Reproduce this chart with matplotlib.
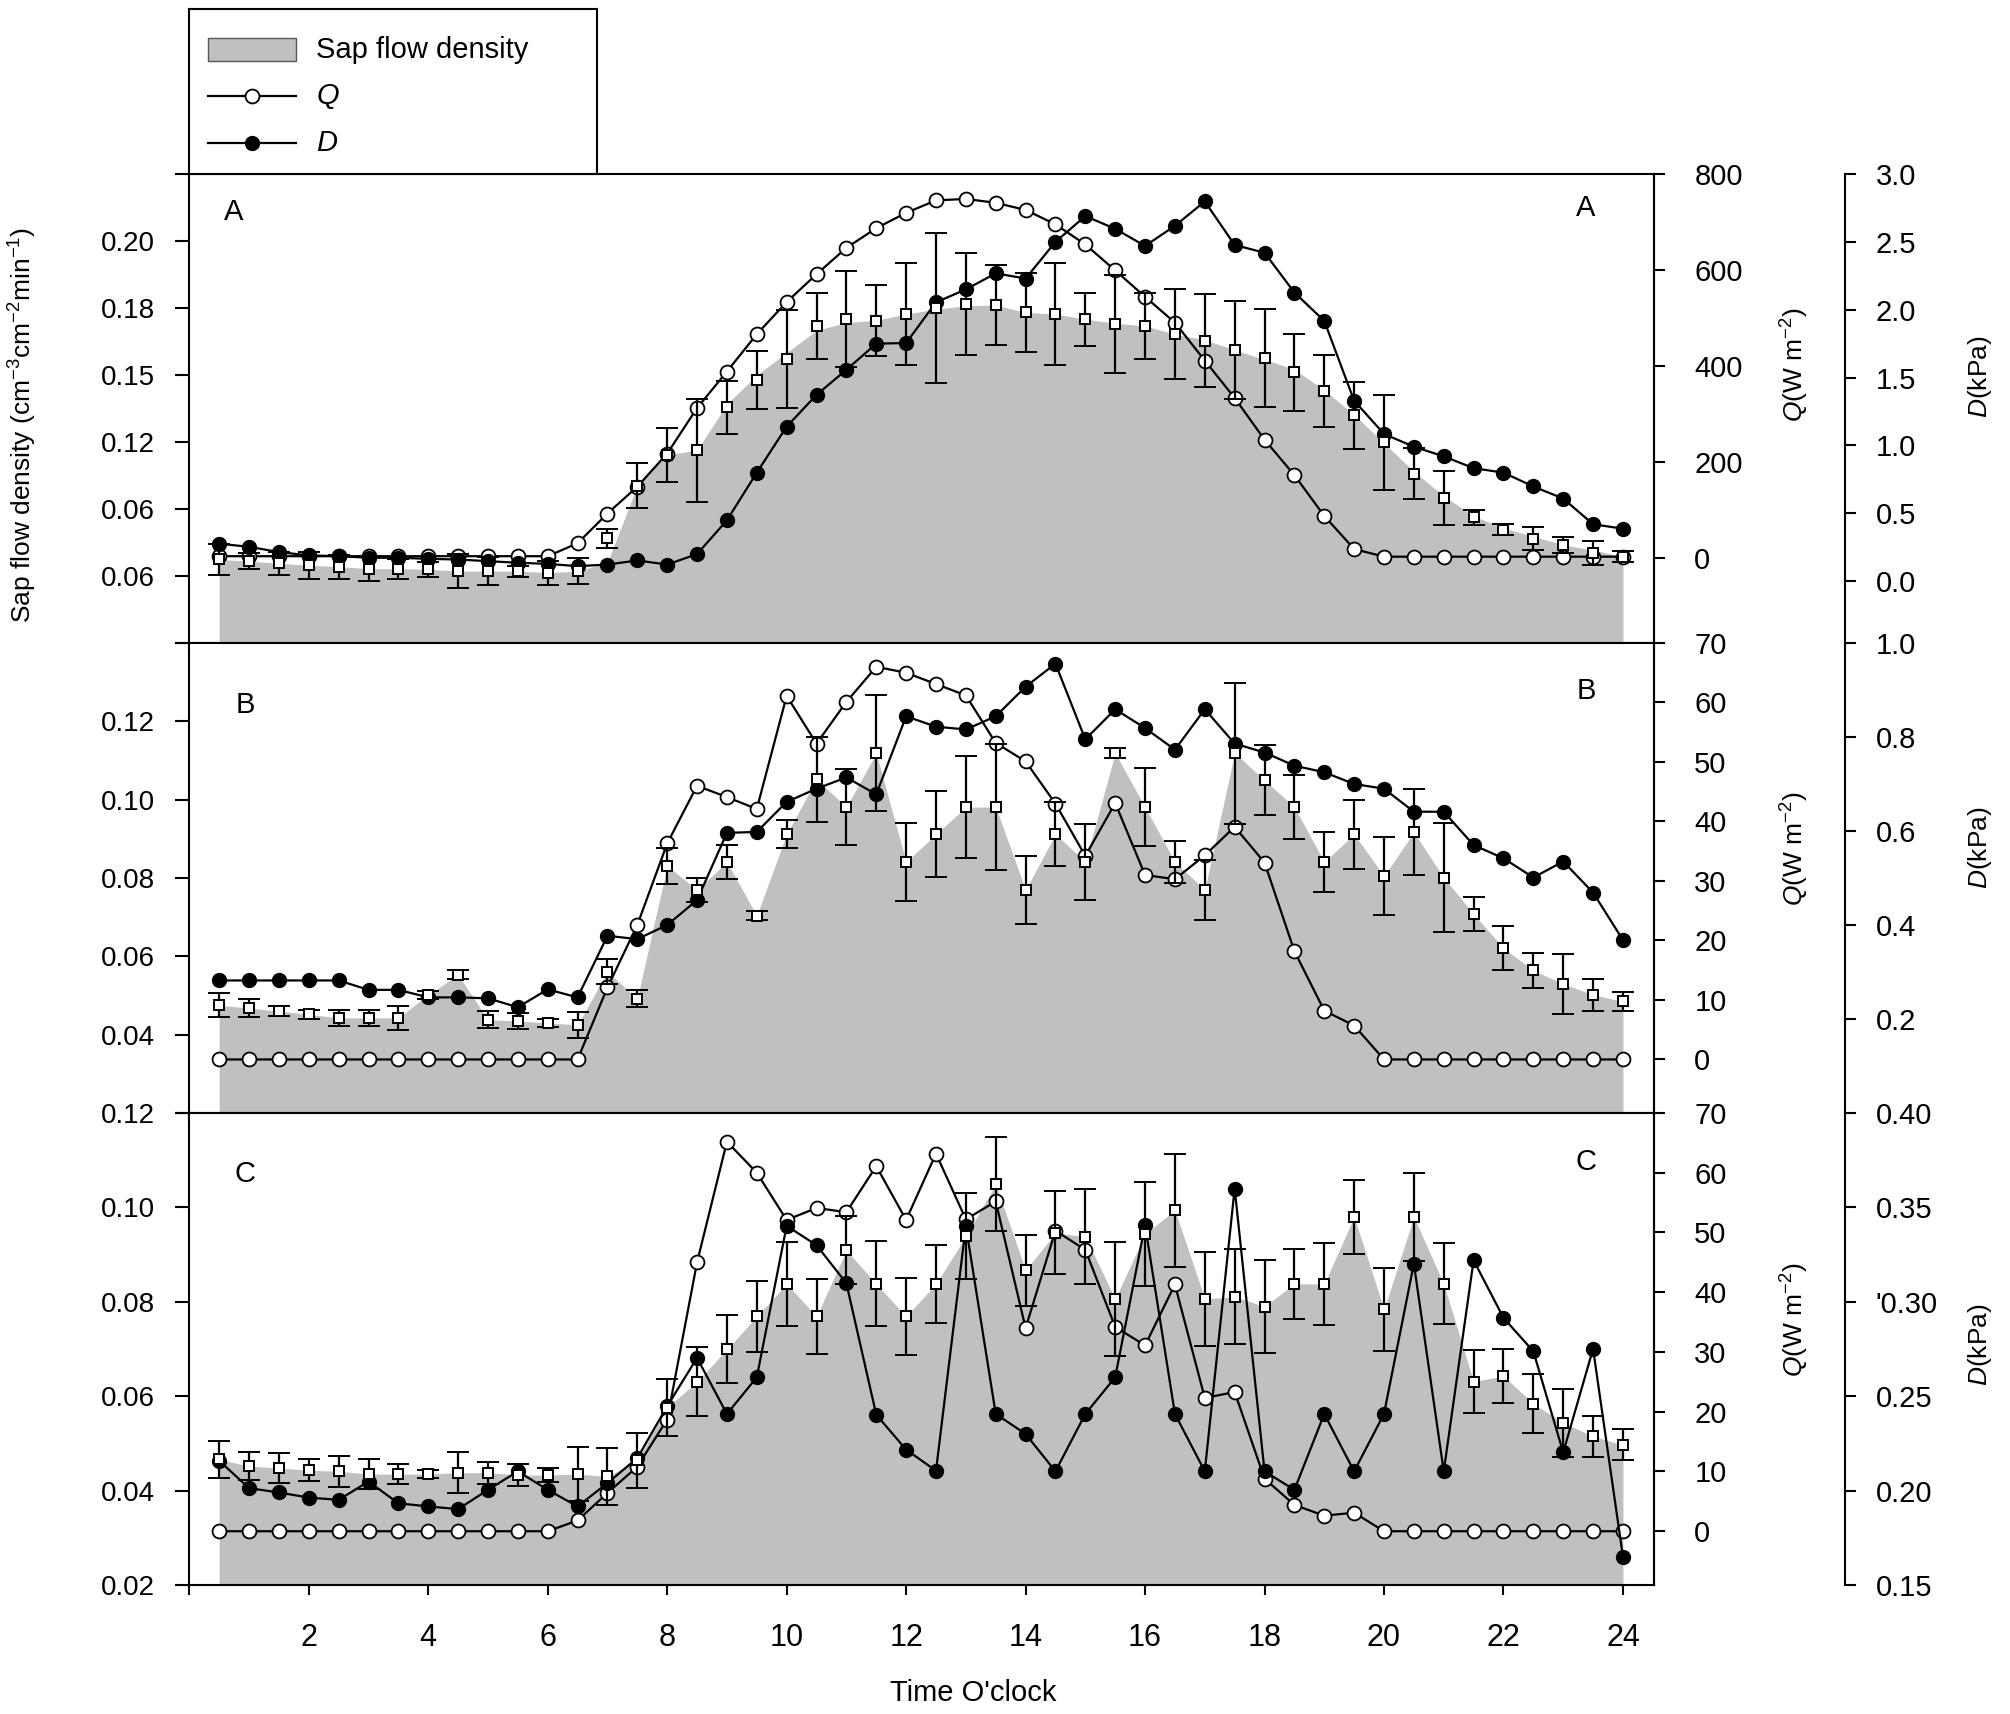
import numpy as np
import matplotlib
matplotlib.use('Agg')
import matplotlib.pyplot as plt
from matplotlib import font_manager as fm
from matplotlib.patches import Rectangle

_names = {f.name for f in fm.fontManager.ttflist}
MAIN = 'Liberation Sans' if 'Liberation Sans' in _names else 'DejaVu Sans'
plt.rcParams['font.family'] = [MAIN, 'DejaVu Sans']
plt.rcParams['mathtext.fontset'] = 'custom'
plt.rcParams['mathtext.rm'] = MAIN
plt.rcParams['mathtext.it'] = MAIN + ':italic'
plt.rcParams['mathtext.default'] = 'regular'

# ---------------- data ----------------
hours = np.arange(0.5, 24.01, 0.5)
xticks = list(range(0, 25, 2))
xticklabels = [''] + [str(h) for h in range(2, 25, 2)]

# Panel A
sap_A = [0.0674, 0.0667, 0.0657, 0.0648, 0.0642, 0.0633, 0.0633, 0.0630, 0.0622, 0.0622, 0.0622, 0.0615, 0.0622,
         0.0768, 0.1005, 0.1143, 0.1163, 0.1355, 0.1478, 0.1572, 0.1720, 0.1750, 0.1743, 0.1773, 0.1800,
         0.1817, 0.1813, 0.1780, 0.1773, 0.1750, 0.1728, 0.1720, 0.1683, 0.1654, 0.1612, 0.1575, 0.1512,
         0.1429, 0.1319, 0.1198, 0.1058, 0.0950, 0.0863, 0.0808, 0.0767, 0.0737, 0.0704, 0.0687]
area_A = [0.0674, 0.0667, 0.0657, 0.0648, 0.0642, 0.0633, 0.0633, 0.0630, 0.0622, 0.0622, 0.0622, 0.0615, 0.0622,
          0.0660, 0.1005, 0.1143, 0.1163, 0.1370, 0.1500, 0.1600, 0.1700, 0.1735, 0.1745, 0.1773, 0.1795,
          0.1810, 0.1813, 0.1780, 0.1773, 0.1750, 0.1732, 0.1720, 0.1683, 0.1657, 0.1612, 0.1570, 0.1525,
          0.1432, 0.1322, 0.1195, 0.1068, 0.0958, 0.0868, 0.0815, 0.0777, 0.0740, 0.0716, 0.0687]
err_A = [0.0070, 0.0034, 0.0052, 0.0060, 0.0054, 0.0055, 0.0045, 0.0033, 0.0076, 0.0061, 0.0025, 0.0054, 0.0057,
         0.0043, 0.0100, 0.0120, 0.0230, 0.0120, 0.0130, 0.0220, 0.0149, 0.0215, 0.0159, 0.0229, 0.0338,
         0.0229, 0.0178, 0.0176, 0.0228, 0.0119, 0.0218, 0.0149, 0.0200, 0.0209, 0.0220, 0.0220, 0.0171,
         0.0161, 0.0149, 0.0211, 0.0115, 0.0120, 0.0033, 0.0024, 0.0052, 0.0036, 0.0054, 0.0025]
Q_A = [3, 3, 3, 3, 3, 3, 3, 3, 3, 3, 3, 3,
       30, 92, 148, 217, 312, 388, 466, 533, 591, 646, 687, 719, 745, 748, 740, 725, 695, 653,
       599, 544, 490, 411, 333, 246, 172, 87, 18,
       2, 2, 2, 2, 2, 2, 2, 2, 2]
D_A = [0.276, 0.254, 0.215, 0.190, 0.185, 0.173, 0.173, 0.165, 0.160, 0.148, 0.136, 0.128, 0.111,
       0.123, 0.153, 0.123, 0.200, 0.449, 0.800, 1.139, 1.373, 1.558, 1.750, 1.755, 2.055,
       2.150, 2.268, 2.230, 2.500, 2.690, 2.596, 2.470, 2.618, 2.798, 2.477, 2.420, 2.127,
       1.918, 1.330, 1.085, 0.991, 0.920, 0.833, 0.800, 0.698, 0.609, 0.420, 0.387]

# Panel B
sap_B = [0.0475, 0.0468, 0.0460, 0.0452, 0.0443, 0.0443, 0.0443, 0.0502, 0.0553, 0.0438, 0.0435, 0.0430, 0.0425,
         0.0561, 0.0492, 0.0831, 0.0770, 0.0841, 0.0704, 0.0912, 0.1052, 0.0981, 0.1119, 0.0841, 0.0912,
         0.0981, 0.0981, 0.0770, 0.0912, 0.0841, 0.1119, 0.0981, 0.0841, 0.0770, 0.1119, 0.1050, 0.0981,
         0.0841, 0.0912, 0.0805, 0.0917, 0.0801, 0.0708, 0.0621, 0.0564, 0.0530, 0.0502, 0.0485]
err_B = [0.0031, 0.0023, 0.0013, 0.0011, 0.0020, 0.0020, 0.0031, 0.0010, 0.0011, 0.0022, 0.0021, 0.0010, 0.0034,
         0.0032, 0.0022, 0.0046, 0.0031, 0.0043, 0.0011, 0.0035, 0.0109, 0.0098, 0.0148, 0.0100, 0.0110,
         0.0130, 0.0160, 0.0087, 0.0082, 0.0098, 0.0012, 0.0100, 0.0054, 0.0076, 0.0180, 0.0090, 0.0082,
         0.0076, 0.0088, 0.0100, 0.0110, 0.0140, 0.0044, 0.0057, 0.0045, 0.0076, 0.0041, 0.0024]
Q_B = [0, 0, 0, 0, 0, 0, 0, 0, 0, 0, 0, 0, 0,
       12.1, 22.6, 36.3, 46.0, 44.1, 42.1, 61.1, 53.1, 60.1, 66.0, 65.0, 63.1, 61.2, 53.2,
       50.1, 43.0, 34.2, 43.1, 31.0, 30.3, 34.3, 39.1, 33.1, 18.2, 8.2, 5.7,
       0, 0, 0, 0, 0, 0, 0, 0, 0]
D_B = [0.282, 0.282, 0.282, 0.282, 0.282, 0.262, 0.262, 0.246, 0.246, 0.244, 0.225, 0.263, 0.246,
       0.377, 0.370, 0.400, 0.453, 0.596, 0.598, 0.662, 0.690, 0.714, 0.678, 0.844, 0.822,
       0.816, 0.844, 0.907, 0.956, 0.795, 0.859, 0.819, 0.773, 0.859, 0.786, 0.767, 0.739,
       0.725, 0.700, 0.690, 0.641, 0.641, 0.570, 0.542, 0.501, 0.535, 0.469, 0.368]

# Panel C
sap_C = [0.0466, 0.0452, 0.0448, 0.0443, 0.0441, 0.0435, 0.0435, 0.0435, 0.0438, 0.0438, 0.0433, 0.0433, 0.0435,
         0.0430, 0.0464, 0.0576, 0.0631, 0.0699, 0.0769, 0.0838, 0.0769, 0.0909, 0.0838, 0.0769, 0.0838,
         0.0939, 0.1049, 0.0867, 0.0946, 0.0938, 0.0806, 0.0944, 0.0994, 0.0806, 0.0811, 0.0790, 0.0838,
         0.0838, 0.0980, 0.0784, 0.0980, 0.0838, 0.0631, 0.0643, 0.0584, 0.0544, 0.0515, 0.0497]
err_C = [0.0040, 0.0029, 0.0032, 0.0023, 0.0033, 0.0032, 0.0022, 0.0009, 0.0043, 0.0023, 0.0023, 0.0015, 0.0058,
         0.0060, 0.0059, 0.0060, 0.0073, 0.0072, 0.0076, 0.0089, 0.0080, 0.0072, 0.0090, 0.0082, 0.0082,
         0.0091, 0.0100, 0.0075, 0.0088, 0.0100, 0.0120, 0.0110, 0.0120, 0.0100, 0.0100, 0.0098, 0.0074,
         0.0087, 0.0079, 0.0088, 0.0093, 0.0086, 0.0066, 0.0057, 0.0062, 0.0072, 0.0044, 0.0033]
Q_C = [0, 0, 0, 0, 0, 0, 0, 0, 0, 0, 0, 0,
       1.8, 6.4, 10.8, 18.7, 45.0, 65.2, 60.0, 52.1, 54.1, 53.4, 61.1, 52.1, 63.2, 52.2, 55.2,
       34.0, 50.3, 47.1, 34.2, 31.1, 41.3, 22.3, 23.3, 8.8, 4.4, 2.6, 3.1,
       0, 0, 0, 0, 0, 0, 0, 0, 0]
D_C = [0.2158, 0.2013, 0.1990, 0.1963, 0.1951, 0.2048, 0.1933, 0.1916, 0.1902, 0.2004, 0.2102, 0.2004, 0.1916,
       0.2040, 0.2172, 0.2447, 0.2703, 0.2406, 0.2600, 0.3402, 0.3300, 0.3098, 0.2402, 0.2217, 0.2105,
       0.3402, 0.2406, 0.2300, 0.2102, 0.2406, 0.2600, 0.3407, 0.2406, 0.2102, 0.3600, 0.2102, 0.2004,
       0.2406, 0.2102, 0.2406, 0.3202, 0.2102, 0.3220, 0.2915, 0.2738, 0.2202, 0.2751, 0.1650]

# axis ticks / labels
sap_ticks_A = [0.21, 0.18, 0.15, 0.12, 0.09, 0.06]
sap_labels_A = ['0.20', '0.18', '0.15', '0.12', '0.06', '0.06']
sap_ticks_B = [0.04, 0.06, 0.08, 0.10, 0.12]
sap_labels_B = ['0.04', '0.06', '0.08', '0.10', '0.12']
sap_ticks_C = [0.02, 0.04, 0.06, 0.08, 0.10, 0.12]
sap_labels_C = ['0.02', '0.04', '0.06', '0.08', '0.10', '0.12']
q_ticks_A = [0, 200, 400, 600, 800]
q_ticks_BC = [0, 10, 20, 30, 40, 50, 60, 70]
d_ticks_A = [0.0, 0.5, 1.0, 1.5, 2.0, 2.5, 3.0]
d_labels_A = ['0.0', '0.5', '1.0', '1.5', '2.0', '2.5', '3.0']
d_ticks_B = [0.2, 0.4, 0.6, 0.8, 1.0]
d_labels_B = ['0.2', '0.4', '0.6', '0.8', '1.0']
d_ticks_C = [0.15, 0.20, 0.25, 0.30, 0.35, 0.40]
d_labels_C = ['0.15', '0.20', '0.25', "'0.30", '0.35', '0.40']

# ---------------- layout ----------------
FW, FH = 2010, 1714
fig = plt.figure(figsize=(FW / 100, FH / 100), dpi=100)
L = 189.3 / FW
R = 1654 / FW
XMAX = 24.52
GREY = '#c0c0c0'

panels = [
    dict(top=174, bot=643, sap=sap_A, area=area_A, err=err_A, Q=Q_A, D=D_A,
         sylim=(0.03, 0.24), sticks=sap_ticks_A, slabels=sap_labels_A, edge=True,
         qylim=(-178, 800), qticks=q_ticks_A,
         dylim=(-0.455, 3.0), dticks=d_ticks_A, dlabels=d_labels_A,
         letter='A', lpos=((0.74, 0.918), (23.38, 0.928)), qy=365, dy=377),
    dict(top=643, bot=1113, sap=sap_B, area=sap_B, err=err_B, Q=Q_B, D=D_B,
         sylim=(0.02, 0.14), sticks=sap_ticks_B, slabels=sap_labels_B, edge=True,
         qylim=(-9, 70), qticks=q_ticks_BC,
         dylim=(0.0, 1.0), dticks=d_ticks_B, dlabels=d_labels_B,
         letter='B', lpos=((0.93, 0.868), (23.39, 0.898)), qy=849, dy=848),
    dict(top=1113, bot=1585, sap=sap_C, area=sap_C, err=err_C, Q=Q_C, D=D_C,
         sylim=(0.02, 0.12), sticks=sap_ticks_C, slabels=sap_labels_C, edge=False,
         qylim=(-9, 70), qticks=q_ticks_BC,
         dylim=(0.15, 0.40), dticks=d_ticks_C, dlabels=d_labels_C,
         letter='C', lpos=((0.94, 0.87), (23.38, 0.896)), qy=1320, dy=1345),
]

LW = 1.5
for i, p in enumerate(panels):
    ax = fig.add_axes([L, 1 - p['bot'] / FH, R - L, (p['bot'] - p['top']) / FH])
    ax.fill_between(hours, p['area'], p['sylim'][0], color=GREY, lw=0, zorder=1)
    ax.set_xlim(0, XMAX)
    ax.set_ylim(*p['sylim'])
    ax.set_yticks(p['sticks'])
    ax.set_yticklabels(p['slabels'])
    if p['edge']:
        ax.set_yticks(list(p['sylim']), minor=True)
    ax.set_xticks(xticks)
    if i == 2:
        ax.set_xticklabels(xticklabels)
    else:
        ax.set_xticklabels([])
    ax.tick_params(axis='y', which='both', direction='out', length=10, width=LW,
                   labelsize=20, pad=15)
    ax.tick_params(axis='x', direction='out', length=7, width=LW, labelsize=22, pad=20)
    for s in ax.spines.values():
        s.set_linewidth(LW)

    # Q axis
    axq = ax.twinx()
    axq.plot(hours, p['Q'], '-o', color='black', lw=1.6, ms=10, mfc='white', mec='black', mew=1.3)
    axq.set_ylim(*p['qylim'])
    axq.set_yticks(p['qticks'])
    axq.tick_params(axis='y', direction='out', length=8, width=LW, labelsize=21, pad=21)
    for k in ('left', 'top', 'bottom'):
        axq.spines[k].set_visible(False)
    axq.spines['right'].set_linewidth(LW)

    # D axis
    axd = ax.twinx()
    axd.spines['right'].set_position(('axes', (1845 - 189.3) / (1654 - 189.3)))
    axd.plot(hours, p['D'], '-o', color='black', lw=1.6, ms=10, mfc='black', mec='black')
    axd.set_ylim(*p['dylim'])
    axd.set_yticks(p['dticks'])
    axd.set_yticklabels(p['dlabels'])
    axd.tick_params(axis='y', direction='out', length=8, width=LW, labelsize=21, pad=14)
    for k in ('left', 'top', 'bottom'):
        axd.spines[k].set_visible(False)
    axd.spines['right'].set_linewidth(LW)

    # sap flow means with error bars (top layer)
    axe = ax.twinx()
    axe.set_ylim(*p['sylim'])
    axe.errorbar(hours, p['sap'], yerr=p['err'], fmt='s', ms=6.5, mfc='white', mec='black', mew=1.4,
                 ecolor='black', elinewidth=1.6, capsize=8, capthick=2)
    axe.axis('off')

    # panel letters
    tr = ax.get_xaxis_transform()
    (lx, ly), (rx, ry) = p['lpos']
    ax.text(lx, ly, p['letter'], transform=tr, ha='center', va='center', fontsize=21)
    ax.text(rx, ry, p['letter'], transform=tr, ha='center', va='center', fontsize=21)

    # right axis labels
    fig.text(1795 / FW, 1 - p['qy'] / FH, r'$\mathit{Q}$(W m$^{-2}$)', rotation=90,
             ha='center', va='center', fontsize=19)
    fig.text(1980 / FW, 1 - p['dy'] / FH, r'$\mathit{D}$(kPa)', rotation=90,
             ha='center', va='center', fontsize=19)

# left & bottom labels
fig.text(23 / FW, 1 - 425 / FH, 'Sap flow density (cm$^{-3}$cm$^{-2}$min$^{-1}$)', rotation=90,
         ha='center', va='center', fontsize=19)
fig.text(973 / FW, 1 - 1693 / FH, "Time O'clock", ha='center', va='center', fontsize=21)

# legend box
axl = fig.add_axes([L, 1 - 174 / FH, (597 - 189.3) / FW, (174 - 9) / FH])
axl.set_xlim(0, 1)
axl.set_ylim(0, 1)
axl.set_xticks([])
axl.set_yticks([])
for s in axl.spines.values():
    s.set_linewidth(LW)
axl.add_patch(Rectangle((0.0456, 0.682), 0.2154, 0.144, facecolor=GREY, edgecolor='#555555', lw=1))
axl.plot([0.0456, 0.261], [0.47, 0.47], '-', color='black', lw=1.6)
axl.plot([0.153], [0.47], 'o', ms=10, mfc='white', mec='black', mew=1.3)
axl.plot([0.0456, 0.261], [0.185, 0.185], '-', color='black', lw=1.6)
axl.plot([0.153], [0.185], 'o', ms=10, mfc='black', mec='black')
axl.text(0.311, 0.754, 'Sap flow density', va='center', ha='left', fontsize=21)
axl.text(0.311, 0.47, r'$\mathit{Q}$', va='center', ha='left', fontsize=21)
axl.text(0.311, 0.185, r'$\mathit{D}$', va='center', ha='left', fontsize=21)

fig.savefig('out.png', dpi=100)
